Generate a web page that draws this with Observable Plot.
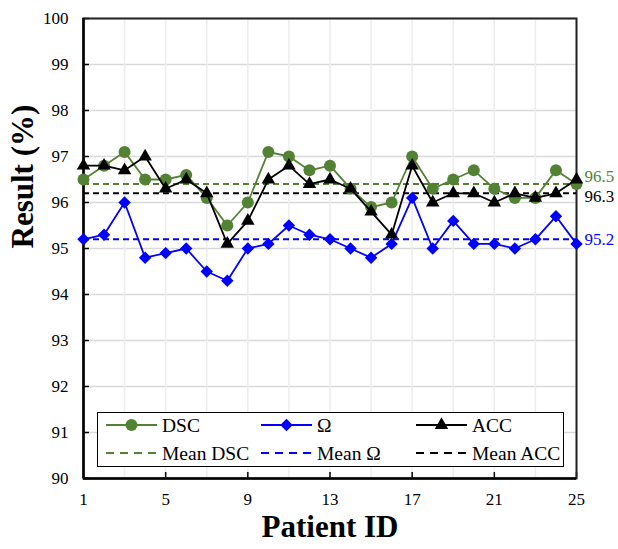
<!DOCTYPE html>
<html><head><meta charset="utf-8">
<script src="https://cdn.jsdelivr.net/npm/d3@7"></script>
<script src="https://cdn.jsdelivr.net/npm/@observablehq/plot@0.6"></script>
<style>
html,body{margin:0;padding:0;background:#fff;}
#wrap{position:relative;width:618px;height:549px;}
#legend{position:absolute;left:97px;top:412px;width:467px;height:55px;box-sizing:border-box;border:1.5px solid #000;background:#fff;}
#legend svg{display:block;}
</style></head><body><div id="wrap"></div>
<script>
// ---- data ----
const patients = [1,2,3,4,5,6,7,8,9,10,11,12,13,14,15,16,17,18,19,20,21,22,23,24,25];
const dsc   = [96.5,96.8,97.1,96.5,96.5,96.6,96.1,95.5,96.0,97.1,97.0,96.7,96.8,96.3,95.9,96.0,97.0,96.3,96.5,96.7,96.3,96.1,96.1,96.7,96.4];
const omega = [95.2,95.3,96.0,94.8,94.9,95.0,94.5,94.3,95.0,95.1,95.5,95.3,95.2,95.0,94.8,95.1,96.1,95.0,95.6,95.1,95.1,95.0,95.2,95.7,95.1];
const acc   = [96.8,96.8,96.7,97.0,96.3,96.5,96.2,95.1,95.6,96.5,96.8,96.4,96.5,96.3,95.8,95.3,96.8,96.0,96.2,96.2,96.0,96.2,96.1,96.2,96.5];
const meanDSC = 96.4, meanOmega = 95.2, meanACC = 96.2;
const meanLabels = ["96.5", "95.2", "96.3"];
const xTicks = [1,5,9,13,17,21,25];
const xGrid = [1,3,5,7,9,11,13,15,17,19,21,23,25];
const yTicks = [90,91,92,93,94,95,96,97,98,99,100];
const seriesNames = ["DSC", "Ω", "ACC"];
const meanNames = ["Mean DSC", "Mean Ω", "Mean ACC"];
const xTitle = "Patient ID", yTitle = "Result (%)";

// ---- styles ----
const GREEN = "#548235", BLUE = "#0000ff", BLACK = "#000000";
const FONT = "Liberation Serif";

const rows = patients.map((p, i) => ({p, dsc: dsc[i], omega: omega[i], acc: acc[i]}));
const lastRow = rows[rows.length - 1];

const chart = Plot.plot({
  width: 618, height: 549,
  marginLeft: 83, marginRight: 42, marginTop: 18, marginBottom: 71,
  style: {fontFamily: FONT, fontSize: "17px"},
  x: {domain: [1, 25]},
  y: {domain: [90, 100]},
  marks: [
    Plot.gridY(yTicks, {stroke: "#d9d9d9", strokeOpacity: 1, strokeWidth: 1.5}),
    Plot.gridX(xGrid, {stroke: "#ededed", strokeOpacity: 1, strokeWidth: 1.5}),
    Plot.axisY(yTicks, {tickSize: -6, tickPadding: 21, label: null, strokeWidth: 1.5, fontSize: 17, fontFamily: FONT}),
    Plot.axisX(xTicks, {tickSize: -6, tickPadding: 20, label: null, strokeWidth: 1.5, fontSize: 17, fontFamily: FONT}),
    Plot.frame({stroke: "#222", strokeWidth: 2}),
    Plot.ruleX([1], {stroke: BLACK, strokeWidth: 2.5}),
    Plot.ruleY([90], {stroke: BLACK, strokeWidth: 2.5}),
    // mean lines
    Plot.ruleY([meanDSC], {stroke: GREEN, strokeWidth: 2, strokeDasharray: "6,4"}),
    Plot.ruleY([meanACC], {stroke: BLACK, strokeWidth: 2, strokeDasharray: "6,4"}),
    Plot.ruleY([meanOmega], {stroke: BLUE, strokeWidth: 2, strokeDasharray: "6,4"}),
    // series
    Plot.line(rows, {x: "p", y: "dsc", stroke: GREEN, strokeWidth: 1.8}),
    Plot.dot(rows, {x: "p", y: "dsc", r: 6, fill: GREEN, stroke: "none", symbol: "circle"}),
    Plot.line(rows, {x: "p", y: "omega", stroke: BLUE, strokeWidth: 1.8}),
    Plot.dot(rows, {x: "p", y: "omega", r: 5.6, fill: BLUE, stroke: "none", symbol: "diamond2"}),
    Plot.line(rows, {x: "p", y: "acc", stroke: BLACK, strokeWidth: 1.8}),
    Plot.dot(rows, {x: "p", y: "acc", r: 5, fill: BLACK, stroke: "none", symbol: "triangle"}),
    // mean value labels
    Plot.text([meanLabels[0]], {x: lastRow.p, y: meanDSC, dx: 8, dy: -8, textAnchor: "start", fill: GREEN, fontSize: 17, fontFamily: FONT}),
    Plot.text([meanLabels[2]], {x: lastRow.p, y: meanACC, dx: 8, dy: 3, textAnchor: "start", fill: BLACK, fontSize: 17, fontFamily: FONT}),
    Plot.text([meanLabels[1]], {x: lastRow.p, y: meanOmega, dx: 8, dy: 0, textAnchor: "start", fill: BLUE, fontSize: 17, fontFamily: FONT}),
    // titles
    Plot.text([xTitle], {frameAnchor: "bottom", dy: 58, fontSize: 31, fontWeight: "bold", fill: BLACK, fontFamily: FONT}),
    Plot.text([yTitle], {frameAnchor: "left", dx: -60, rotate: -90, fontSize: 31, fontWeight: "bold", fill: BLACK, fontFamily: FONT})
  ]
});

const wrap = document.getElementById("wrap");
wrap.appendChild(chart);

// ---- legend (inside plot area) ----
const leg = document.createElement("div");
leg.id = "legend";
wrap.appendChild(leg);
const svg = d3.select(leg).append("svg").attr("width", 464).attr("height", 52)
  .style("font-family", FONT).style("font-size", "19.5px");
const colors = [GREEN, BLUE, BLACK];
const symbols = [d3.symbolCircle, d3.symbolDiamond2, d3.symbolTriangle];
const symSizes = [Math.PI*36, Math.PI*5.6*5.6, Math.PI*25];
const colX = [8, 163, 318];
const rowY = [12, 40];
seriesNames.forEach((name, i) => {
  const g = svg.append("g");
  g.append("line").attr("x1", colX[i]).attr("x2", colX[i] + 51).attr("y1", rowY[0]).attr("y2", rowY[0])
    .attr("stroke", colors[i]).attr("stroke-width", 1.8);
  g.append("path").attr("d", d3.symbol(symbols[i], symSizes[i])())
    .attr("transform", `translate(${colX[i] + 25.5},${rowY[0]})`).attr("fill", colors[i]);
  g.append("text").attr("x", colX[i] + 56).attr("y", rowY[0]).attr("dy", "0.35em").text(name);
  const g2 = svg.append("g");
  g2.append("line").attr("x1", colX[i]).attr("x2", colX[i] + 51).attr("y1", rowY[1]).attr("y2", rowY[1])
    .attr("stroke", colors[i]).attr("stroke-width", 1.8).attr("stroke-dasharray", "8,6");
  g2.append("text").attr("x", colX[i] + 56).attr("y", rowY[1]).attr("dy", "0.35em").text(meanNames[i]);
});
</script>
</body></html>
